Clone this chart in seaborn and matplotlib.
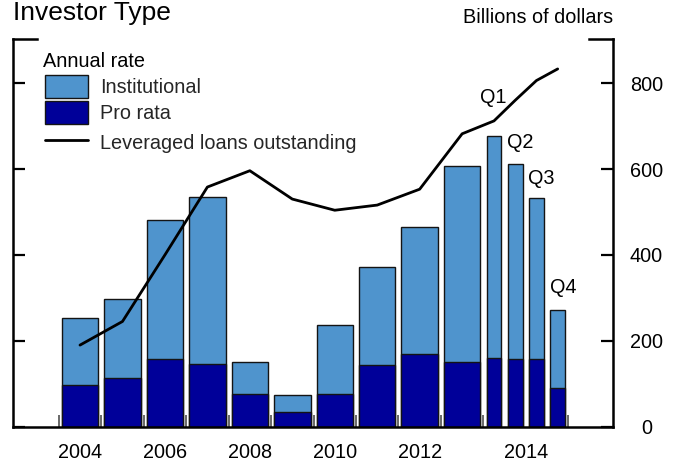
import numpy as np
import pandas as pd
import matplotlib
matplotlib.use("Agg")
import matplotlib.pyplot as plt
import seaborn as sns
from matplotlib.patches import Patch
from matplotlib.lines import Line2D
from matplotlib.ticker import FixedLocator

# ---------------- data ----------------
annual_years = [2004, 2005, 2006, 2007, 2008, 2009, 2010, 2011, 2012, 2013]
quarter_year = 2014
quarters = ["Q1", "Q2", "Q3", "Q4"]

pro_rata_annual = [98, 113, 158, 146, 77, 35, 77, 143, 169, 151]
institutional_annual = [155, 185, 324, 388, 73, 39, 159, 230, 296, 455]
pro_rata_quarterly = [161, 157, 158, 89]
institutional_quarterly = [516, 454, 374, 183]

loans_annual = [190, 245, 400, 558, 596, 530, 504, 516, 553, 682]
loans_quarterly = [712, 760, 806, 833]

year_tick_labels = ["2004", "2006", "2008", "2010", "2012", "2014"]
y_ticks = [0, 200, 400, 600, 800]

# ---------------- layout helpers ----------------
base = annual_years[0]
annual_pos = [y - base for y in annual_years]
q_start = (quarter_year - base) - 0.5
quarter_pos = [q_start + 0.25 + 0.5 * i for i in range(len(quarters))]
boundaries = [p - 0.5 for p in annual_pos] + [q_start, q_start + 2.0]
label_pos = [int(l) - base for l in year_tick_labels[:-1]] + [q_start + 1.0]

LIGHT = "#4F94CD"
DARK = "#000099"
EDGE = "#141414"
FS = 14.3
W, H = 679.0, 461.0

sns.set_theme(style="white")
plt.rcParams["font.family"] = ["Liberation Sans", "DejaVu Sans"]

fig = plt.figure(figsize=(6.79, 4.61), dpi=100)
ax = fig.add_axes([13.3 / W, 34.3 / H, 600.0 / W, 387.4 / H])

df_a = pd.DataFrame({
    "pos": annual_pos,
    "total": np.add(pro_rata_annual, institutional_annual),
    "pro": pro_rata_annual,
})
df_q = pd.DataFrame({
    "pos": quarter_pos,
    "total": np.add(pro_rata_quarterly, institutional_quarterly),
    "pro": pro_rata_quarterly,
})

bar_kw = dict(native_scale=True, orient="x", saturation=1, errorbar=None,
              edgecolor=EDGE, linewidth=1.0, ax=ax)
sns.barplot(data=df_a, x="pos", y="total", width=0.86, color=LIGHT, **bar_kw)
sns.barplot(data=df_a, x="pos", y="pro", width=0.86, color=DARK, **bar_kw)
sns.barplot(data=df_q, x="pos", y="total", width=0.7, color=LIGHT, **bar_kw)
sns.barplot(data=df_q, x="pos", y="pro", width=0.7, color=DARK, **bar_kw)

line_df = pd.DataFrame({"pos": annual_pos + quarter_pos,
                        "loans": loans_annual + loans_quarterly})
sns.lineplot(data=line_df, x="pos", y="loans", color="black", linewidth=2.0,
             ax=ax, zorder=5)

# quarter labels
q_label_xy = [(9.73, 767), (10.36, 662), (10.86, 579), (11.37, 324)]
for q, (qx, qy) in zip(quarters, q_label_xy):
    ax.text(qx, qy, q, ha="center", va="center", fontsize=FS, color="black")

ax.set_xlim(-1.571, 12.56)
ax.set_ylim(0, 902)
ax.set_xlabel("")
ax.set_ylabel("")

# x axis ticks
ax.xaxis.set_major_locator(FixedLocator(label_pos))
ax.set_xticklabels(year_tick_labels)
ax.xaxis.set_minor_locator(FixedLocator(boundaries))
ax.tick_params(axis="x", which="major", length=0, pad=12.0, labelsize=FS,
               labelcolor="black", bottom=True)
ax.tick_params(axis="x", which="minor", direction="in", length=8.4, width=1.1,
               color="#404040", bottom=True)

# y axis ticks
ax.yaxis.set_major_locator(FixedLocator(y_ticks))
ax.set_yticklabels([str(v) for v in y_ticks])
ax.tick_params(axis="y", which="major", direction="in", length=8.6, width=1.6,
               color="black", left=True, right=True, labelleft=False,
               labelright=True, pad=23.8, labelsize=FS, labelcolor="black")
for t in ax.yaxis.get_major_ticks():
    t.label2.set_horizontalalignment("center")

for side in ["left", "right", "bottom"]:
    ax.spines[side].set_visible(True)
    ax.spines[side].set_linewidth(1.8)
    ax.spines[side].set_color("black")
ax.spines["top"].set_visible(False)

# top corner caps of the frame
ax.plot([0, 0.04], [1, 1], transform=ax.transAxes, color="black", lw=1.8,
        clip_on=False, solid_capstyle="projecting")
ax.plot([0.96, 1], [1, 1], transform=ax.transAxes, color="black", lw=1.8,
        clip_on=False, solid_capstyle="projecting")

# titles
fig.text(13.3 / W, 1 - 20 / H, "Investor Type", fontsize=19,
         ha="left", va="baseline", color="black")
fig.text(613.3 / W, 1 - 23.3 / H, "Billions of dollars", fontsize=FS,
         ha="right", va="baseline", color="black")

# legend
fs_px = FS * 100 / 72.0
patch_h = 23.5
hh = (patch_h / fs_px - 0.245) / 0.65
leg_kw = dict(loc="upper left", bbox_transform=fig.transFigure, frameon=False,
              fontsize=FS, handlelength=43 / fs_px, handleheight=hh,
              handletextpad=12.3 / fs_px, labelspacing=2.5 / fs_px,
              borderpad=0, borderaxespad=0)
fig.text(42.7 / W, 1 - 66.7 / H, "Annual rate", fontsize=FS,
         ha="left", va="baseline", color="black")
patch_handles = [Patch(facecolor=LIGHT, edgecolor=EDGE, linewidth=1.0),
                 Patch(facecolor=DARK, edgecolor=EDGE, linewidth=1.0)]
leg1 = ax.legend(patch_handles, ["Institutional", "Pro rata"],
                 bbox_to_anchor=(45 / W, 1 - 75 / H), **leg_kw)
ax.add_artist(leg1)
leg2 = ax.legend([Line2D([], [], color="black", linewidth=2.0)],
                 ["Leveraged loans outstanding"],
                 bbox_to_anchor=(45 / W, 1 - 131 / H), **leg_kw)

fig.savefig("out.png", dpi=100)
